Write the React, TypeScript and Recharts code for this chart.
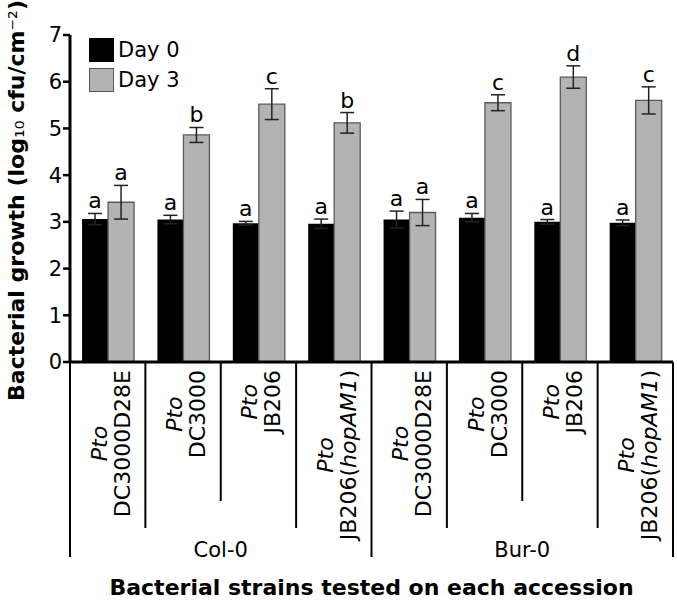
import React from "react";
import { BarChart, Bar, XAxis, YAxis, ErrorBar, LabelList, Legend } from "recharts";

document.body.style.margin = "0";

// values
const accessions = ["Col-0", "Bur-0"];
const strains = ["DC3000D28E", "DC3000", "JB206", "JB206(hopAM1)"];
const day0 = [3.06, 3.05, 2.97, 2.96, 3.05, 3.09, 3.0, 2.98];
const day0Err = [0.12, 0.09, 0.04, 0.1, 0.18, 0.09, 0.05, 0.06];
const day3 = [3.42, 4.86, 5.52, 5.12, 3.2, 5.55, 6.1, 5.6];
const day3Err = [0.36, 0.16, 0.33, 0.22, 0.28, 0.17, 0.24, 0.29];
const day0Letters = ["a", "a", "a", "a", "a", "a", "a", "a"];
const day3Letters = ["a", "b", "c", "b", "a", "c", "d", "c"];
const yTicks = [0, 1, 2, 3, 4, 5, 6, 7];

const W = 677;
const H = 601;
const M = { top: 35, right: 4, bottom: 0, left: 10 };
const Y_AXIS_W = 60;
const X_AXIS_H = 239;
const FONT = "DejaVu Sans";
const GRAY = "#b3b3b3";
const GRAY_EDGE = "#5a5a5a";
// how far the separators below the axis drop, by position inside an accession
const SEP_DEPTH = [195, 166, 139, 166];

const data = accessions.flatMap((acc, a) =>
  strains.map((s, k) => {
    const i = a * strains.length + k;
    return {
      id: `${acc} ${s}`,
      accession: acc,
      strain: s,
      day0: day0[i],
      day0Err: day0Err[i],
      day3: day3[i],
      day3Err: day3Err[i],
    };
  })
);

const BAND = (W - M.left - Y_AXIS_W - M.right) / data.length;

let ctx: CanvasRenderingContext2D | null = null;
const textWidth = (s: string, font: string) => {
  if (!ctx) ctx = document.createElement("canvas").getContext("2d");
  if (!ctx) return s.length * 13;
  ctx.font = font;
  return ctx.measureText(s).width;
};

const splitStrain = (s: string) => {
  const m = s.match(/^(.*)\((.*)\)$/);
  if (!m) return [{ text: s, italic: false }];
  return [
    { text: m[1] + "(", italic: false },
    { text: m[2], italic: true },
    { text: ")", italic: false },
  ];
};

const StrainTick = (props: any) => {
  const { x, y, index } = props;
  const row = data[index];
  if (!row) return null;
  const parts = splitStrain(row.strain);
  const len = parts.reduce(
    (w, p) => w + textWidth(p.text, `${p.italic ? "italic " : ""}22px "${FONT}"`),
    0
  );
  const mid = y + 8 + len / 2;
  const left = x - BAND / 2;
  const pos = index % strains.length;
  return (
    <g>
      <line x1={left} x2={left} y1={y} y2={y + SEP_DEPTH[pos]} stroke="#000" strokeWidth={2} />
      {index === data.length - 1 && (
        <line x1={x + BAND / 2} x2={x + BAND / 2} y1={y} y2={y + SEP_DEPTH[0]} stroke="#000" strokeWidth={2} />
      )}
      <text
        transform={`translate(${x},${mid}) rotate(-90)`}
        textAnchor="middle"
        fontFamily={FONT}
        fontSize={22}
        fill="#000"
      >
        <tspan x={0} y={-1} fontStyle="italic">Pto</tspan>
        <tspan x={0} y={22}>
          {parts.map((p, j) => (
            <tspan key={j} fontStyle={p.italic ? "italic" : undefined}>{p.text}</tspan>
          ))}
        </tspan>
      </text>
      {pos === 2 && (
        <text x={left} y={y + SEP_DEPTH[0]} textAnchor="middle" fontFamily={FONT} fontSize={21} fill="#000">
          {row.accession}
        </text>
      )}
    </g>
  );
};

const sigLabel = (letters: string[], errs: number[], vals: number[]) => (p: any) => {
  const { x, y, width, height, index } = p;
  const top = y - errs[index] * (height / vals[index]);
  return (
    <text x={x + width / 2} y={top - 5} textAnchor="middle" fontFamily={FONT} fontSize={22} fill="#000">
      {letters[index]}
    </text>
  );
};

const LegendBox = (props: any) => {
  const edges: Record<string, string> = { "Day 0": "#000", "Day 3": GRAY_EDGE };
  return (
    <div style={{ fontFamily: FONT, fontSize: 21, color: "#000" }}>
      {(props.payload || []).map((e: any) => (
        <div key={e.value} style={{ display: "flex", alignItems: "center", height: 30 }}>
          <span
            style={{
              width: 25,
              height: 24,
              boxSizing: "border-box",
              background: e.color,
              border: `1.5px solid ${edges[e.value]}`,
              marginRight: 4,
            }}
          />
          <span>{e.value}</span>
        </div>
      ))}
    </div>
  );
};

export default function App() {
  return (
    <BarChart width={W} height={H} data={data} margin={M} barCategoryGap="16%" barGap={0}>
      <XAxis
        dataKey="id"
        interval={0}
        tickLine={false}
        tickSize={0}
        tickMargin={0}
        height={X_AXIS_H}
        axisLine={{ stroke: "#000", strokeWidth: 3 }}
        tick={<StrainTick />}
        label={{
          content: (p: any) => {
            const vb = p.viewBox || {};
            return (
              <text
                x={vb.x + vb.width / 2}
                y={vb.y + 233}
                textAnchor="middle"
                fontFamily={FONT}
                fontWeight="bold"
                fontSize={22}
                fill="#000"
              >
                Bacterial strains tested on each accession
              </text>
            );
          },
        }}
      />
      <YAxis
        width={Y_AXIS_W}
        domain={[0, 7]}
        ticks={yTicks}
        interval={0}
        allowDataOverflow
        tickSize={7}
        tickMargin={1}
        axisLine={{ stroke: "#000", strokeWidth: 3 }}
        tickLine={{ stroke: "#000", strokeWidth: 2.5 }}
        tick={{ fill: "#000", fontSize: 21, fontFamily: FONT }}
        label={{
          content: (p: any) => {
            const vb = p.viewBox || {};
            return (
              <text
                transform={`translate(24,${vb.y + vb.height / 2 + 2}) rotate(-90)`}
                textAnchor="middle"
                fontFamily={FONT}
                fontWeight="bold"
                fontSize={22}
                fill="#000"
              >
                Bacterial growth (log<tspan fontWeight="normal">₁₀</tspan> cfu/cm<tspan fontWeight="normal">⁻²</tspan>)
              </text>
            );
          },
        }}
      />
      <Legend
        layout="vertical"
        align="center"
        verticalAlign="middle"
        content={<LegendBox />}
        wrapperStyle={{ left: 89, top: 35, width: "auto", height: "auto" }}
      />
      <Bar dataKey="day0" name="Day 0" fill="#000" isAnimationActive={false}>
        <ErrorBar dataKey="day0Err" width={7} stroke="#222" strokeWidth={1.5} isAnimationActive={false} />
        <LabelList dataKey="day0" content={sigLabel(day0Letters, day0Err, day0)} />
      </Bar>
      <Bar dataKey="day3" name="Day 3" fill={GRAY} stroke={GRAY_EDGE} strokeWidth={1.3} isAnimationActive={false}>
        <ErrorBar dataKey="day3Err" width={7} stroke="#222" strokeWidth={1.5} isAnimationActive={false} />
        <LabelList dataKey="day3" content={sigLabel(day3Letters, day3Err, day3)} />
      </Bar>
    </BarChart>
  );
}
